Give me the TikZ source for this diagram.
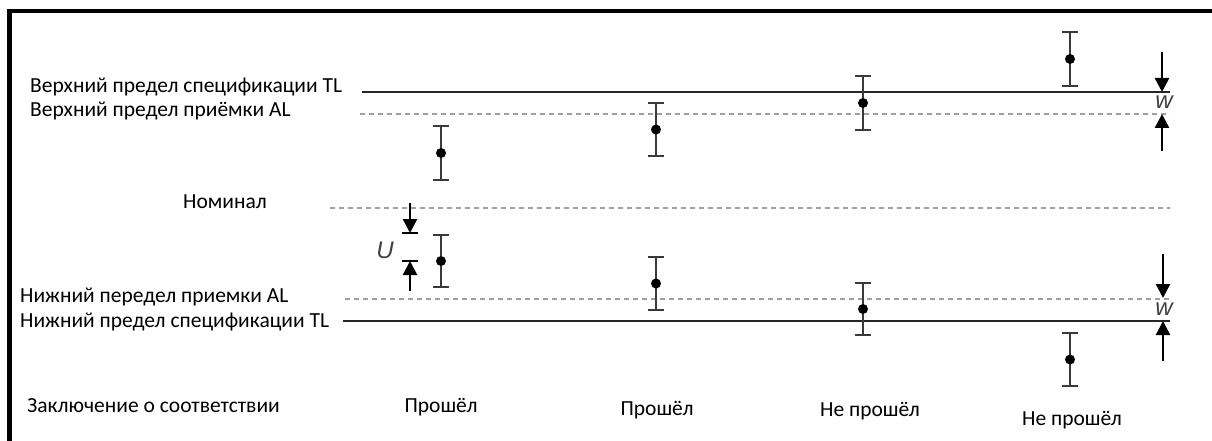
\documentclass[tikz,border=0pt]{standalone}
\usepackage{fontspec}
\setmainfont{Carlito}
\newfontfamily\arialfont{Liberation Sans}
\usetikzlibrary{arrows.meta,calc}
\definecolor{bargray}{HTML}{3A3A3A}
\definecolor{dashgray}{HTML}{A0A0A0}
\tikzset{
  lbl/.style={anchor=west,inner sep=0pt,font=\fontsize{21.5}{24}\selectfont},
  verdict/.style={inner sep=0pt,font=\fontsize{21.5}{24}\selectfont},
  tlline/.style={line width=2.6pt,black!85},
  alline/.style={line width=1.2pt,dashgray,dash pattern=on 5pt off 4pt},
  ebar/.style={line width=2.8pt,bargray},
  edot/.style={circle,fill=black,inner sep=0pt,minimum size=10pt},
  darrow/.style={line width=2.4pt,-{Triangle[width=14pt,length=14pt]}},
  sym/.style={inner sep=0pt,font=\arialfont\itshape\fontsize{24}{26}\selectfont,text=black!75},
}
\newcommand{\errbar}[4]{% name, x, ytop, ybottom
  \coordinate (#1t) at (#2,#3);
  \coordinate (#1b) at (#2,#4);
  \draw[ebar] (#1t) -- (#1b);
  \draw[ebar] ([xshift=-8pt]#1t) -- ([xshift=8pt]#1t);
  \draw[ebar] ([xshift=-8pt]#1b) -- ([xshift=8pt]#1b);
  \node[edot] (#1d) at ($(#1t)!0.5!(#1b)$) {};
}
\begin{document}
\begin{tikzpicture}[x=1pt,y=-1pt]
\useasboundingbox (0,0) rectangle (1212,441);
% frame
\draw[line width=4.5pt,black] (9.5,441) -- (9.5,11) -- (1212,11);
% labels
\node[lbl] (utl) at (30,87) {Верхний предел спецификации TL};
\node[lbl] (ual) at (30,111) {Верхний предел приёмки AL};
\node[lbl] (nom) at (183,202) {Номинал};
\node[lbl] (lal) at (20,297) {Нижний передел приемки AL};
\node[lbl] (ltl) at (20,322) {Нижний предел спецификации TL};
\node[lbl] (conc) at (27,406) {Заключение о соответствии};
% limit lines
\coordinate (utlA) at (362,92); \coordinate (utlB) at (1170,92);
\coordinate (ualA) at (360,114); \coordinate (ualB) at (1170,114);
\coordinate (nomA) at (330,208); \coordinate (nomB) at (1170,208);
\coordinate (lalA) at (345,299); \coordinate (lalB) at (1170,299);
\coordinate (ltlA) at (343,321); \coordinate (ltlB) at (1170,321);
\draw[alline] (ualA) -- (ualB);
\draw[alline] (nomA) -- (nomB);
\draw[alline] (lalA) -- (lalB);
\draw[tlline] (utlA) -- (utlB);
\draw[tlline] (ltlA) -- (ltlB);
% error bars
\errbar{a}{441}{126}{180}
\errbar{b}{441}{235}{287}
\errbar{c}{656}{103}{156}
\errbar{d}{656}{257}{310}
\errbar{e}{863}{76}{130}
\errbar{f}{863}{283}{335}
\errbar{g}{1070}{32}{86}
\errbar{h}{1070}{333}{386}
% U arrows
\coordinate (u1s) at (410,203); \coordinate (u1e) at (410,233);
\coordinate (u2s) at (410,291); \coordinate (u2e) at (410,261);
\draw[darrow] (u1s) -- (u1e);
\draw[darrow] (u2s) -- (u2e);
\draw[line width=2.4pt] (402,233) -- (418,233);
\draw[line width=2.4pt] (402,261) -- (418,261);
\node[sym] (U) at (385,250) {U};
% w arrows upper
\coordinate (w1s) at (1162,52); \coordinate (w1e) at (1162,92);
\coordinate (w2s) at (1162,151); \coordinate (w2e) at (1162,114);
\draw[darrow] (w1s) -- (w1e);
\draw[darrow] (w2s) -- (w2e);
\node[sym] (w1) at (1164,102) {w};
% w arrows lower
\coordinate (w3s) at (1163,254); \coordinate (w3e) at (1163,298);
\coordinate (w4s) at (1163,361); \coordinate (w4e) at (1163,321);
\draw[darrow] (w3s) -- (w3e);
\draw[darrow] (w4s) -- (w4e);
\node[sym] (w2) at (1164,309) {w};
% verdicts
\node[verdict] (v1) at (441,407) {Прошёл};
\node[verdict] (v2) at (657,410) {Прошёл};
\node[verdict] (v3) at (870,411) {Не прошёл};
\node[verdict] (v4) at (1072,420) {Не прошёл};
\end{tikzpicture}
\end{document}
